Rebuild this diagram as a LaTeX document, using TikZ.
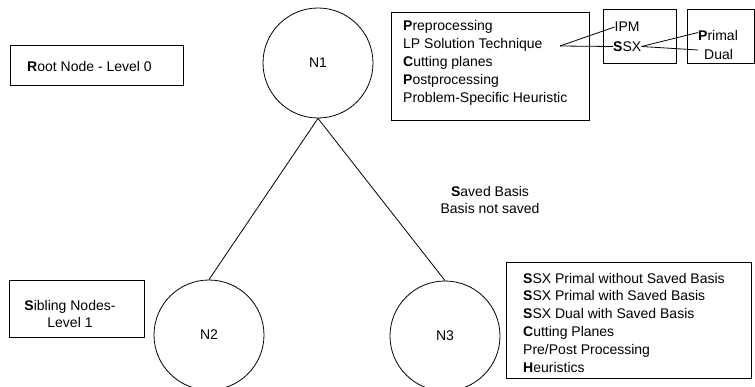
\documentclass[tikz,border=0pt]{standalone}
\usepackage{fontspec}
\setmainfont{Liberation Sans}
\begin{document}
\begin{tikzpicture}[x=1pt,y=-1pt,
  box/.style={draw, line width=0.8pt, rectangle, inner sep=0pt},
  circ/.style={draw, circle, minimum size=110pt, inner sep=0pt, line width=0.8pt, font=\fontsize{14}{17}\selectfont},
  txt/.style={font=\fontsize{14}{18}\selectfont, align=left, inner sep=0pt, anchor=west},
  ctxt/.style={font=\fontsize{14}{17}\selectfont, align=center, inner sep=0pt},
  link/.style={line width=0.8pt}]
\useasboundingbox (0,0) rectangle (755,387);
% tree
\node[circ] (n1) at (318,63) {N1};
\node[circ] (n2) at (209,335) {N2};
\node[circ] (n3) at (445,336) {N3};
\draw[link] (n1.south) -- (n2.north);
\draw[link] (n1.south) -- (n3.north);
% root label
\node[box, minimum width=173pt, minimum height=40pt] (rootbox) at (96.5,65) {};
\node[txt] (roottxt) at (27,66) {\textbf{R}oot Node - Level 0};
% sibling label
\node[box, minimum width=135pt, minimum height=57pt] (sibbox) at (76.5,308.5) {};
\node[ctxt] (sibtxt) at (70,313.5) {\textbf{S}ibling Nodes-\\Level 1};
% basis text
\node[ctxt] (basis) at (490,199.5) {\textbf{S}aved Basis\\Basis not saved};
% techniques box
\node[box, minimum width=198pt, minimum height=108pt] (techbox) at (490,66) {};
\node[txt] (techtxt) at (403,63) {\textbf{P}reprocessing\\LP Solution Technique\\\textbf{C}utting planes\\\textbf{P}ostprocessing\\Problem-Specific Heuristic};
\coordinate (lp) at (560,46);
% IPM / SSX box
\node[box, minimum width=73pt, minimum height=54pt] (methbox) at (639.5,36) {};
\node[txt, font=\fontsize{14}{17}\selectfont] (ipm) at (614.5,27) {IPM};
\node[txt, font=\fontsize{14}{17}\selectfont] (ssx) at (613,46.5) {\textbf{S}SX};
% Primal / Dual box
\node[box, minimum width=67pt, minimum height=54pt] (pdbox) at (721,36) {};
\node[txt, font=\fontsize{14}{17}\selectfont] (primal) at (698,35.5) {\textbf{P}rimal};
\node[txt, font=\fontsize{14}{17}\selectfont] (dual) at (704,54) {Dual};
\draw[link] (lp) -- (ipm.west);
\draw[link] (lp) -- (ssx.west);
\draw[link] (ssx.east) -- ([yshift=3pt]primal.west);
\draw[link] (ssx.east) -- ([xshift=-6pt,yshift=4pt]dual.west);
% N3 techniques box
\node[box, minimum width=245pt, minimum height=116pt] (n3box) at (628.5,320) {};
\node[txt, font=\fontsize{14}{17.8}\selectfont] (n3txt) at (523,322.5) {\textbf{S}SX Primal without Saved Basis\\\textbf{S}SX Primal with Saved Basis\\\textbf{S}SX Dual with Saved Basis\\\textbf{C}utting Planes\\Pre/Post Processing\\\textbf{H}euristics};
\end{tikzpicture}
\end{document}
